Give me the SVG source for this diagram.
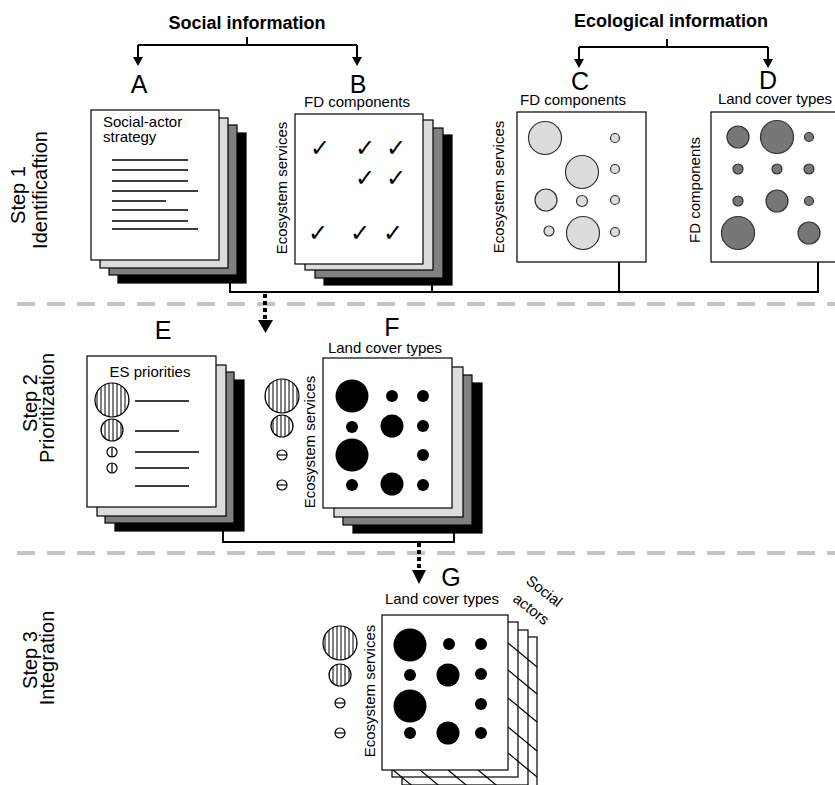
<svg xmlns="http://www.w3.org/2000/svg" width="835" height="785" viewBox="0 0 835 785">
<defs>
<pattern id="stripes" patternUnits="userSpaceOnUse" width="4" height="4"><rect width="4" height="4" fill="#fff"/><line x1="1" y1="0" x2="1" y2="4" stroke="#000" stroke-width="1"/></pattern>
</defs>
<style>
text{font-family:"Liberation Sans",Arial,sans-serif;fill:#000}
.title{font-size:18px;font-weight:bold;text-anchor:middle}
.letter{font-size:25px;text-anchor:middle}
.lbl{font-size:15px}
.mid{text-anchor:middle}
.step{font-size:20px;text-anchor:middle}
.page{stroke:#000;stroke-width:1.2}
.p0{fill:#fff}.p1{fill:#dcdcdc}.p2{fill:#808080}.p3{fill:#000}
.tl{stroke:#000;stroke-width:1.5}
.conn{stroke:#000;stroke-width:2;fill:none}
.dot{stroke:#000;stroke-width:4;stroke-dasharray:4 3;fill:none}
.sep{stroke:#c4c4c4;stroke-width:4;stroke-dasharray:18 12}
.cc{fill:#dcdcdc;stroke:#333;stroke-width:1.2}
.cd{fill:#777;stroke:#333;stroke-width:1.2}
.cb{fill:#000}
.st{fill:url(#stripes);stroke:#000;stroke-width:1.2}
.sm{fill:#fff;stroke:#000;stroke-width:1.2}
.grid{stroke:#000;stroke-width:1.2}
.chk{font-family:"DejaVu Sans",sans-serif;font-size:24px;font-weight:bold;text-anchor:middle}
</style>
<rect width="835" height="785" fill="#fff"/>

<g id="separators">
<line class="sep" x1="17" y1="304" x2="835" y2="304"/>
<line class="sep" x1="17" y1="553" x2="835" y2="553"/>
</g>

<g id="step-labels">
<text class="step" transform="translate(25,195) rotate(-90)">Step 1</text>
<text class="step" transform="translate(47,190) rotate(-90)">Identificaftion</text>
<text class="step" transform="translate(37,403) rotate(-90)">Step 2</text>
<text class="step" transform="translate(54,408) rotate(-90)">Prioritization</text>
<text class="step" transform="translate(37,660) rotate(-90)">Step 3</text>
<text class="step" transform="translate(54,658) rotate(-90)">Integration</text>
</g>

<g id="titles">
<text class="title" x="247" y="29">Social information</text>
<text class="title" x="671" y="27">Ecological information</text>
</g>

<g id="connectors">
<path class="conn" d="M247,37 V45 M138,45 H357 M138,45 V58 M357,45 V58"/>
<polygon points="133,57 143,57 138,66"/>
<polygon points="352,57 362,57 357,66"/>
<path class="conn" d="M667,39 V47 M579,47 H768 M579,47 V60 M768,47 V60"/>
<polygon points="574,59 584,59 579,68"/>
<polygon points="763,59 773,59 768,68"/>
<path class="conn" d="M230,283 V292 H818 V262 M432,285 V292 M619,262 V292"/>
<line class="dot" x1="265" y1="294" x2="265" y2="320"/>
<polygon points="258,320 273,320 265.5,333"/>
<path class="conn" d="M223,531 V542 H454 V533"/>
<line class="dot" x1="419" y1="543" x2="419" y2="570"/>
<polygon points="412,570 426,570 419,584"/>
</g>

<g id="node-A">
<text class="letter" x="139" y="93">A</text>
<rect class="page p3" x="118" y="133" width="128" height="150"/>
<rect class="page p2" x="109" y="125" width="128" height="150"/>
<rect class="page p1" x="100" y="118" width="128" height="150"/>
<rect class="page p0" x="91" y="110" width="128" height="150"/>
<text class="lbl" x="103" y="127">Social-actor</text>
<text class="lbl" x="103" y="142">strategy</text>
<path class="tl" d="M112,160 H188 M112,170 H188 M112,181 H188 M112,191 H198 M112,201 H166 M112,210 H188 M112,221 H188 M112,229 H198"/>
</g>

<g id="node-B">
<text class="letter" x="358" y="93">B</text>
<text class="lbl mid" x="357" y="107">FD components</text>
<rect class="page p3" x="324" y="135" width="128" height="150"/>
<rect class="page p2" x="315" y="128" width="128" height="150"/>
<rect class="page p1" x="305" y="120" width="128" height="150"/>
<rect class="page p0" x="295" y="114" width="128" height="150"/>
<text class="lbl mid" transform="translate(287,188) rotate(-90)">Ecosystem services</text>
<text class="chk" x="320" y="156">✓</text>
<text class="chk" x="365" y="156">✓</text>
<text class="chk" x="396" y="156">✓</text>
<text class="chk" x="365" y="186">✓</text>
<text class="chk" x="396" y="186">✓</text>
<text class="chk" x="318" y="241">✓</text>
<text class="chk" x="360" y="241">✓</text>
<text class="chk" x="393" y="241">✓</text>
</g>

<g id="node-C">
<text class="letter" x="580" y="90">C</text>
<text class="lbl mid" x="573" y="105">FD components</text>
<rect class="page p0" x="517" y="112" width="129" height="150"/>
<text class="lbl mid" transform="translate(504,187) rotate(-90)">Ecosystem services</text>
<circle class="cc" cx="545" cy="138" r="16.5"/>
<circle class="cc" cx="615" cy="138" r="4.5"/>
<circle class="cc" cx="582" cy="172" r="16.5"/>
<circle class="cc" cx="615" cy="169" r="4.5"/>
<circle class="cc" cx="546" cy="200" r="11"/>
<circle class="cc" cx="582" cy="201" r="5.5"/>
<circle class="cc" cx="615" cy="200" r="4.5"/>
<circle class="cc" cx="549" cy="231" r="5"/>
<circle class="cc" cx="583" cy="233" r="16.5"/>
<circle class="cc" cx="615" cy="232" r="4.5"/>
</g>

<g id="node-D">
<text class="letter" x="768" y="89">D</text>
<text class="lbl mid" x="775" y="104">Land cover types</text>
<rect class="page p0" x="711" y="112" width="129" height="150"/>
<text class="lbl mid" transform="translate(700,190) rotate(-90)">FD components</text>
<circle class="cd" cx="738" cy="137" r="11"/>
<circle class="cd" cx="777" cy="137" r="16.5"/>
<circle class="cd" cx="809" cy="137" r="4.5"/>
<circle class="cd" cx="738" cy="169" r="5"/>
<circle class="cd" cx="777" cy="169" r="5"/>
<circle class="cd" cx="809" cy="169" r="5"/>
<circle class="cd" cx="738" cy="201" r="5"/>
<circle class="cd" cx="777" cy="201" r="11"/>
<circle class="cd" cx="809" cy="201" r="4.5"/>
<circle class="cd" cx="738" cy="233" r="16.5"/>
<circle class="cd" cx="809" cy="233" r="11"/>
</g>

<g id="node-E">
<text class="letter" x="163" y="339">E</text>
<rect class="page p3" x="115" y="380" width="129" height="151"/>
<rect class="page p2" x="105" y="372" width="129" height="151"/>
<rect class="page p1" x="97" y="365" width="129" height="151"/>
<rect class="page p0" x="87" y="356" width="129" height="151"/>
<text class="lbl mid" x="150" y="377">ES priorities</text>
<circle class="st" cx="112" cy="400" r="17"/>
<circle class="st" cx="112" cy="430" r="11"/>
<circle class="sm" cx="112" cy="452" r="5"/><line class="grid" x1="112" y1="447" x2="112" y2="457"/>
<circle class="sm" cx="112" cy="468" r="5"/><line class="grid" x1="112" y1="463" x2="112" y2="473"/>
<path class="tl" d="M135,401 H189 M135,431 H179 M135,452 H199 M135,468 H189 M135,486 H189"/>
</g>

<g id="node-F">
<text class="letter" x="392" y="336">F</text>
<text class="lbl mid" x="385" y="353">Land cover types</text>
<rect class="page p3" x="353" y="383" width="129" height="150"/>
<rect class="page p2" x="343" y="375" width="129" height="150"/>
<rect class="page p1" x="334" y="367" width="129" height="150"/>
<rect class="page p0" x="323" y="358" width="129" height="150"/>
<text class="lbl mid" transform="translate(315,442) rotate(-90)">Ecosystem services</text>
<circle class="st" cx="282" cy="396" r="17"/>
<circle class="st" cx="282" cy="426" r="11"/>
<circle class="sm" cx="282" cy="455" r="5"/><line class="grid" x1="277" y1="455" x2="287" y2="455"/>
<circle class="sm" cx="282" cy="485" r="5"/><line class="grid" x1="277" y1="485" x2="287" y2="485"/>
<circle class="cb" cx="352" cy="396" r="16.5"/>
<circle class="cb" cx="392" cy="396" r="6"/>
<circle class="cb" cx="423" cy="396" r="6"/>
<circle class="cb" cx="352" cy="427" r="6"/>
<circle class="cb" cx="392" cy="426" r="11.5"/>
<circle class="cb" cx="423" cy="426" r="6"/>
<circle class="cb" cx="352" cy="455" r="16.5"/>
<circle class="cb" cx="423" cy="455" r="6"/>
<circle class="cb" cx="352" cy="485" r="6"/>
<circle class="cb" cx="392" cy="484" r="11.5"/>
<circle class="cb" cx="423" cy="485" r="6"/>
</g>

<g id="node-G">
<text class="letter" x="451" y="586">G</text>
<text class="lbl mid" x="442" y="604">Land cover types</text>
<text class="lbl mid" transform="translate(541,595) rotate(38)">Social</text>
<text class="lbl mid" transform="translate(528,613) rotate(38)">actors</text>
<rect class="page p0" x="411" y="637" width="126" height="155"/>
<rect class="page p0" x="402" y="630" width="126" height="155"/>
<rect class="page p0" x="392" y="622" width="126" height="155"/>
<path class="grid" d="M508,643 l29,24 M508,670 l29,24 M508,698 l29,24 M508,727 l29,24 M508,753 l29,24 M393,770 l29,24 M420,770 l29,24 M448,770 l29,24 M478,770 l29,24"/>
<rect class="page p0" x="382" y="615" width="126" height="155"/>
<text class="lbl mid" transform="translate(375,691) rotate(-90)">Ecosystem services</text>
<circle class="st" cx="340" cy="643" r="17"/>
<circle class="st" cx="340" cy="675" r="11"/>
<circle class="sm" cx="340" cy="703" r="5"/><line class="grid" x1="335" y1="703" x2="345" y2="703"/>
<circle class="sm" cx="340" cy="733" r="5"/><line class="grid" x1="335" y1="733" x2="345" y2="733"/>
<circle class="cb" cx="410" cy="645" r="16.5"/>
<circle class="cb" cx="449" cy="644" r="6"/>
<circle class="cb" cx="481" cy="644" r="6"/>
<circle class="cb" cx="410" cy="675" r="6"/>
<circle class="cb" cx="448" cy="675" r="11.5"/>
<circle class="cb" cx="481" cy="674" r="6"/>
<circle class="cb" cx="410" cy="706" r="16.5"/>
<circle class="cb" cx="481" cy="704" r="6"/>
<circle class="cb" cx="410" cy="733" r="6"/>
<circle class="cb" cx="448" cy="733" r="11.5"/>
<circle class="cb" cx="481" cy="733" r="6"/>
</g>
</svg>
